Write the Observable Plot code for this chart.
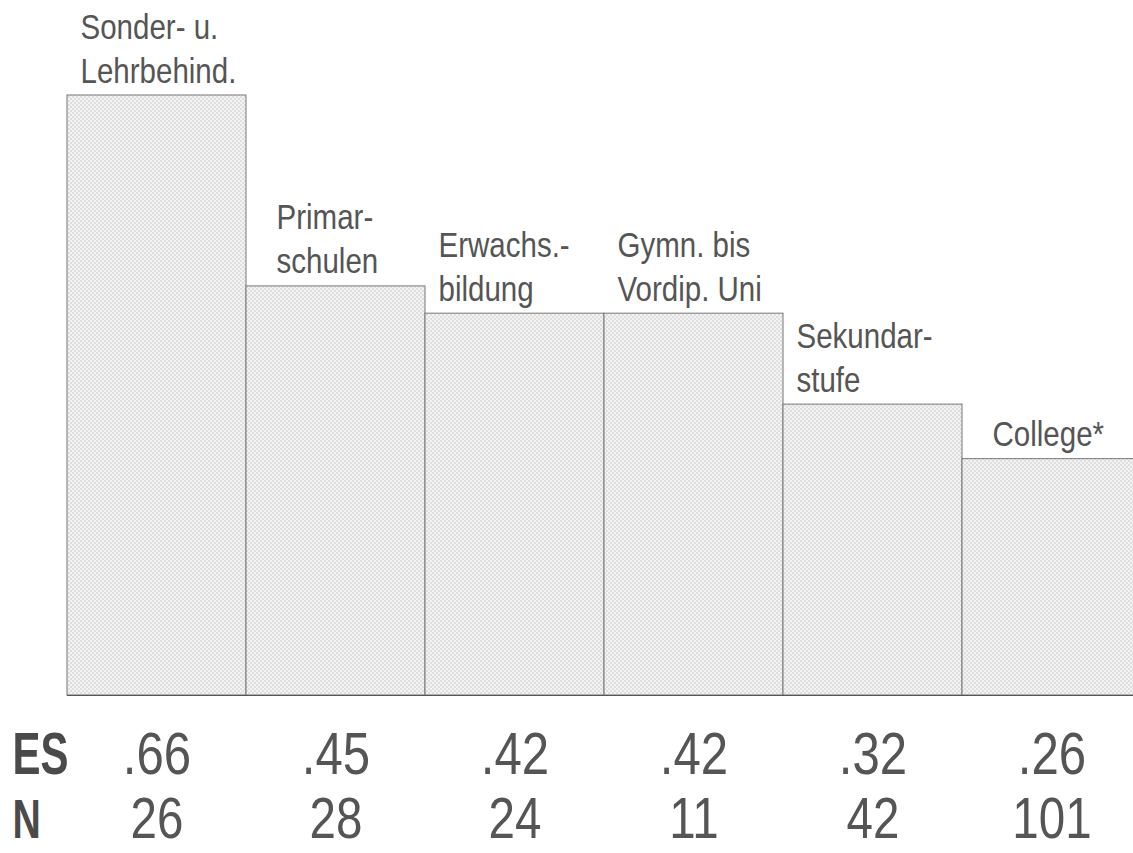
<!DOCTYPE html>
<html>
<head>
<meta charset="utf-8">
<script src="https://cdn.jsdelivr.net/npm/d3@7"></script>
<script src="https://cdn.jsdelivr.net/npm/@observablehq/plot@0.6"></script>
<style>
  html, body { margin: 0; padding: 0; background: #fff; }
  #chart svg { display: block; }
</style>
</head>
<body>
<div id="chart"></div>
<script>
const categories = ["Sonder- u.\nLehrbehind.", "Primar-\nschulen", "Erwachs.-\nbildung", "Gymn. bis\nVordip. Uni", "Sekundar-\nstufe", "College*"];
const esValues = [0.66, 0.45, 0.42, 0.42, 0.32, 0.26];
const esLabels = [".66", ".45", ".42", ".42", ".32", ".26"];
const nValues = [26, 28, 24, 11, 42, 101];
const rowLabels = ["ES", "N"];

const data = categories.map((c, i) => ({cat: c, es: esValues[i], esLabel: esLabels[i], n: nValues[i], i}));
const wideLabel = new Set([1, 5]);

const font = "'Liberation Sans', Arial, Helvetica, sans-serif";

const svg = Plot.plot({
  width: 1133,
  height: 853,
  marginTop: 95,
  marginBottom: 158,
  marginLeft: 0,
  marginRight: 0,
  style: {fontFamily: font, background: "#fff"},
  x: {domain: categories, range: [67, 1141], padding: 0, axis: null},
  y: {domain: [0, 0.66], axis: null},
  marks: [
    Plot.barY(data, {x: "cat", y: "es", fill: "url(#dots)", stroke: "#777", strokeWidth: 1}),
    Plot.ruleY([0], {stroke: "#555", strokeWidth: 1.2, insetLeft: 67}),
    Plot.text(data.filter(d => !wideLabel.has(d.i)), {
      x: "cat", y: "es", text: "cat", textAnchor: "start", lineAnchor: "bottom",
      dx: -76.5, dy: -13, fontSize: 36, lineHeight: 1.22, fill: "#555"
    }),
    Plot.text(data.filter(d => wideLabel.has(d.i)), {
      x: "cat", y: "es", text: "cat", textAnchor: "start", lineAnchor: "bottom",
      dx: -59.5, dy: -13, fontSize: 36, lineHeight: 1.22, fill: "#555"
    }),
    Plot.text(data, {
      x: "cat", text: "esLabel", frameAnchor: "bottom", lineAnchor: "bottom",
      dy: 78, fontSize: 60, fill: "#555"
    }),
    Plot.text(data, {
      x: "cat", text: d => String(d.n), frameAnchor: "bottom", lineAnchor: "bottom",
      dy: 142, fontSize: 58, fill: "#555"
    }),
    Plot.text([rowLabels[0]], {
      text: d => d, frameAnchor: "bottom-left", textAnchor: "start", lineAnchor: "bottom",
      dx: 12, dy: 78, fontSize: 60, fontWeight: "bold", fill: "#4a4a4a"
    }),
    Plot.text([rowLabels[1]], {
      text: d => d, frameAnchor: "bottom-left", textAnchor: "start", lineAnchor: "bottom",
      dx: 12, dy: 142, fontSize: 56, fontWeight: "bold", fill: "#4a4a4a"
    })
  ]
});

// pattern for the dotted bar fill
const defs = d3.select(svg).insert("defs", ":first-child");
const pat = defs.append("pattern").attr("id", "dots").attr("patternUnits", "userSpaceOnUse")
  .attr("width", 4).attr("height", 4);
pat.append("rect").attr("width", 4).attr("height", 4).attr("fill", "#f4f4f4");
pat.append("circle").attr("cx", 1).attr("cy", 1).attr("r", 0.7).attr("fill", "#b8b8b8");
pat.append("circle").attr("cx", 3).attr("cy", 3).attr("r", 0.7).attr("fill", "#b8b8b8");

// emulate a narrow (condensed) typeface by scaling glyphs horizontally about their anchor
d3.select(svg).selectAll("g[aria-label='text']").each(function() {
  const g = d3.select(this);
  const bold = g.attr("font-weight") === "bold";
  const s = bold ? 0.7 : 0.82;
  g.selectAll("text").each(function() {
    const t = d3.select(this);
    const tr = t.attr("transform");
    if (tr) {
      t.attr("transform", tr + ` scale(${s},1)`);
    } else {
      const x = +t.attr("x") || 0;
      t.attr("transform", `translate(${x},0) scale(${s},1) translate(${-x},0)`);
    }
  });
});

document.getElementById("chart").appendChild(svg);
</script>
</body>
</html>
